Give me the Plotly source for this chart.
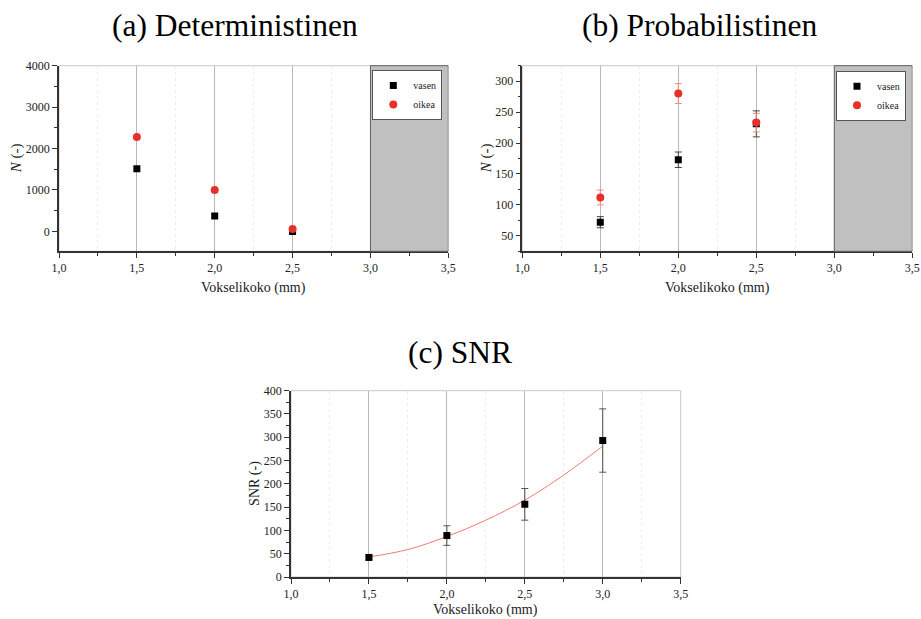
import plotly.graph_objects as go

# ---------------- data ----------------
x_vals = [1.5, 2.0, 2.5]

det_vasen = [1510, 370, 0]
det_oikea = [2280, 1000, 60]

prob_vasen = [72, 173, 231]
prob_vasen_err = [9, 12.5, 21]
prob_oikea = [112, 280, 233]
prob_oikea_err = [12, 16, 15]

snr_x = [1.5, 2.0, 2.5, 3.0]
snr_y = [42, 89, 156, 293]
snr_err = [5, 21, 34, 68]

fit_x = [1.5, 1.75, 2.0, 2.25, 2.5, 2.75, 3.0]
fit_y = [43, 59, 87, 122, 165, 219, 281]

W, H = 921, 619
SERIF = "Liberation Serif"
RED = "#e8302a"

fig = go.Figure()

def px_x(p):
    return p / W

def px_y(p):
    return 1 - p / H

# domains
dom = {
    "a": dict(x=[px_x(59), px_x(448.3)], y=[px_y(251.3), px_y(65.7)]),
    "b": dict(x=[px_x(522.3), px_x(912.3)], y=[px_y(251.3), px_y(65.7)]),
    "c": dict(x=[px_x(291), px_x(680.7)], y=[px_y(577), px_y(390.7)]),
}

# ---- panel a ----
fig.add_trace(go.Scatter(x=x_vals, y=det_vasen, mode="markers", name="vasen",
                         marker=dict(symbol="square", size=7, color="black"),
                         xaxis="x", yaxis="y", legend="legend"))
fig.add_trace(go.Scatter(x=x_vals, y=det_oikea, mode="markers", name="oikea",
                         marker=dict(symbol="circle", size=8, color=RED),
                         xaxis="x", yaxis="y", legend="legend"))

# ---- panel b ----
fig.add_trace(go.Scatter(x=x_vals, y=prob_vasen, mode="markers", name="vasen",
                         marker=dict(symbol="square", size=7, color="black"),
                         error_y=dict(type="data", array=prob_vasen_err, color="#444444",
                                      thickness=1, width=3.5),
                         xaxis="x2", yaxis="y2", legend="legend2"))
fig.add_trace(go.Scatter(x=x_vals, y=prob_oikea, mode="markers", name="oikea",
                         marker=dict(symbol="circle", size=8, color=RED),
                         error_y=dict(type="data", array=prob_oikea_err, color="#f08a80",
                                      thickness=1, width=3.5),
                         xaxis="x2", yaxis="y2", legend="legend2"))

# ---- panel c ----
fig.add_trace(go.Scatter(x=fit_x, y=fit_y, mode="lines", showlegend=False,
                         line=dict(color="#f07a70", width=1, shape="spline"),
                         xaxis="x3", yaxis="y3"))
fig.add_trace(go.Scatter(x=snr_x, y=snr_y, mode="markers", showlegend=False,
                         marker=dict(symbol="square", size=7, color="black"),
                         error_y=dict(type="data", array=snr_err, color="#555555",
                                      thickness=1, width=3.5),
                         xaxis="x3", yaxis="y3"))

tickfont = dict(family=SERIF, size=12, color="#222222")

def xaxis_cfg(key, anchor):
    return dict(domain=dom[key]["x"], anchor=anchor, range=[1.0, 3.5],
                tick0=1.0, dtick=0.5, tickformat=".1f", automargin=False,
                showline=True, linecolor="#333333", linewidth=1.5,
                ticks="outside", ticklen=5, tickcolor="#333333",
                showgrid=True, gridcolor="#b8b8b8", gridwidth=1,
                zeroline=False, tickfont=tickfont,
                minor=dict(dtick=0.25, tick0=1.0, ticks="outside", ticklen=3,
                           tickcolor="#333333", showgrid=True,
                           gridcolor="#ececec", griddash="dot"))

def yaxis_cfg(key, anchor, rng, dtick, mdtick):
    return dict(domain=dom[key]["y"], anchor=anchor, range=rng, dtick=dtick,
                tick0=0, automargin=False,
                showline=True, linecolor="#333333", linewidth=1.5,
                ticks="outside", ticklen=5, tickcolor="#333333",
                showgrid=False, zeroline=False, tickfont=tickfont,
                minor=dict(dtick=mdtick, tick0=0, ticks="outside", ticklen=3,
                           tickcolor="#333333", showgrid=False))

shapes = []
for xr, yr in [("x", "y"), ("x2", "y2"), ("x3", "y3")]:
    shapes.append(dict(type="rect", xref=f"{xr} domain", yref=f"{yr} domain",
                       x0=0, x1=1, y0=0, y1=1, line=dict(color="#c8c8c8", width=1),
                       fillcolor="rgba(0,0,0,0)", layer="below"))
for xr, yr in [("x", "y"), ("x2", "y2")]:
    shapes.append(dict(type="rect", xref=xr, yref=f"{yr} domain",
                       x0=3.0, x1=3.5, y0=0, y1=1,
                       fillcolor="#c0c0c0", line=dict(color="#606060", width=1),
                       layer="above"))

axtitle = dict(family=SERIF, size=14, color="#222222")
ytitle = dict(family=SERIF, size=15, color="#222222")
TITLE = dict(family=SERIF, size=31.5, color="black")
annotations = [
    dict(text="(a) Deterministinen", x=px_x(235), y=px_y(25), xref="paper", yref="paper",
         xanchor="center", yanchor="middle", showarrow=False, font=TITLE),
    dict(text="(b) Probabilistinen", x=px_x(700), y=px_y(25), xref="paper", yref="paper",
         xanchor="center", yanchor="middle", showarrow=False, font=TITLE),
    dict(text="(c) SNR", x=px_x(460), y=px_y(352), xref="paper", yref="paper",
         xanchor="center", yanchor="middle", showarrow=False, font=TITLE),
    dict(text="Vokselikoko (mm)", x=px_x(253.5), y=px_y(287.7), xref="paper", yref="paper",
         xanchor="center", yanchor="middle", showarrow=False, font=axtitle),
    dict(text="Vokselikoko (mm)", x=px_x(717.3), y=px_y(287.7), xref="paper", yref="paper",
         xanchor="center", yanchor="middle", showarrow=False, font=axtitle),
    dict(text="Vokselikoko (mm)", x=px_x(485.9), y=px_y(610), xref="paper", yref="paper",
         xanchor="center", yanchor="middle", showarrow=False, font=axtitle),
    dict(text="<i>N</i> (-)", x=px_x(16.7), y=px_y(158.5), xref="paper", yref="paper",
         xanchor="center", yanchor="middle", showarrow=False, textangle=-90, font=ytitle),
    dict(text="<i>N</i> (-)", x=px_x(486.7), y=px_y(158.5), xref="paper", yref="paper",
         xanchor="center", yanchor="middle", showarrow=False, textangle=-90, font=ytitle),
    dict(text="SNR (-)", x=px_x(255), y=px_y(483.9), xref="paper", yref="paper",
         xanchor="center", yanchor="middle", showarrow=False, textangle=-90, font=axtitle),
]

legfont = dict(family=SERIF, size=10, color="#222222")
fig.update_layout(
    width=W, height=H,
    margin=dict(l=0, r=0, t=0, b=0, autoexpand=False),
    paper_bgcolor="white", plot_bgcolor="white",
    separators=",.",
    font=dict(family=SERIF),
    xaxis=xaxis_cfg("a", "y"),
    yaxis=yaxis_cfg("a", "x", [-480, 4000], 1000, 500),
    xaxis2=xaxis_cfg("b", "y2"),
    yaxis2=yaxis_cfg("b", "x2", [25, 325], 50, 25),
    xaxis3=xaxis_cfg("c", "y3"),
    yaxis3=yaxis_cfg("c", "x3", [0, 400], 50, 25),
    shapes=shapes,
    annotations=annotations,
    legend=dict(x=px_x(442.3), y=px_y(70), xanchor="right", yanchor="top",
                bgcolor="white", bordercolor="#555555", borderwidth=1,
                font=legfont, itemwidth=30, tracegroupgap=0),
    legend2=dict(x=px_x(906), y=px_y(70.7), xanchor="right", yanchor="top",
                 bgcolor="white", bordercolor="#555555", borderwidth=1,
                 font=legfont, itemwidth=30, tracegroupgap=0),
)

fig.write_html("out.html")
